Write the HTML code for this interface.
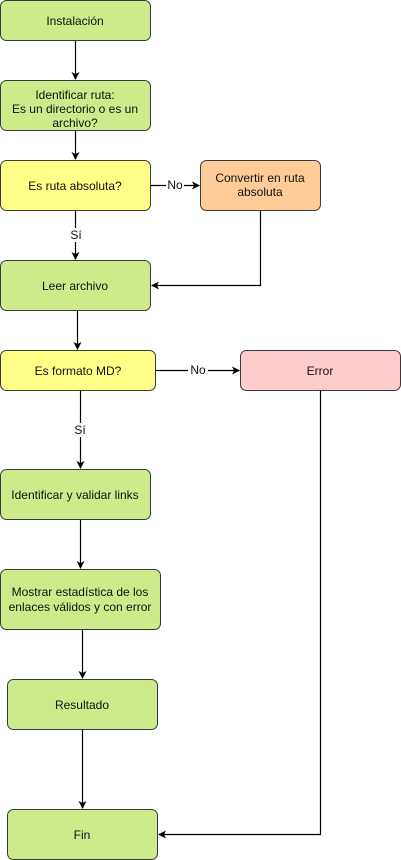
<!DOCTYPE html>
<html><head><meta charset="utf-8"><style>
html,body{margin:0;padding:0;background:#fff;width:401px;height:860px;overflow:hidden}
text{font-family:"Liberation Sans",Arial,sans-serif;font-size:12px;fill:#111;text-anchor:middle}
</style></head><body>
<svg width="401" height="860" viewBox="0 0 401 860" xmlns="http://www.w3.org/2000/svg">
<defs><marker id="a" markerWidth="8" markerHeight="8" refX="7" refY="4" orient="auto" markerUnits="userSpaceOnUse"><path d="M0,0 L8,4 L0,8 L2,4 Z" fill="#000"/></marker></defs>
<g stroke="#36393d" stroke-width="1">
<rect x="0.5" y="0.5" width="150" height="40" rx="6" fill="#cdeb8b"/>
<rect x="0.5" y="80.5" width="150" height="50" rx="6" fill="#cdeb8b"/>
<rect x="0.5" y="160.5" width="150" height="50" rx="6" fill="#ffff88"/>
<rect x="200.5" y="160.5" width="120" height="50" rx="6" fill="#ffcc99"/>
<rect x="0.5" y="260.5" width="150" height="50" rx="6" fill="#cdeb8b"/>
<rect x="0.5" y="350.5" width="155" height="40" rx="6" fill="#ffff88"/>
<rect x="240.5" y="350.5" width="160" height="40" rx="6" fill="#ffcccc"/>
<rect x="0.5" y="469.5" width="150" height="50" rx="6" fill="#cdeb8b"/>
<rect x="0.5" y="569.5" width="160" height="60" rx="6" fill="#cdeb8b"/>
<rect x="7.5" y="679.5" width="150" height="50" rx="6" fill="#cdeb8b"/>
<rect x="7.5" y="809.5" width="150" height="50" rx="6" fill="#cdeb8b"/>
</g>
<g stroke="#000" stroke-width="1.2" fill="none">
<path d="M75.5 41 V79" marker-end="url(#a)"/>
<path d="M75.5 131 V159" marker-end="url(#a)"/>
<path d="M75.5 211 V259" marker-end="url(#a)"/>
<path d="M151 185.5 H199" marker-end="url(#a)"/>
<path d="M260.5 211 V285.5 H152" marker-end="url(#a)"/>
<path d="M77.5 311 V349" marker-end="url(#a)"/>
<path d="M156 370.5 H239" marker-end="url(#a)"/>
<path d="M80.5 391 V468" marker-end="url(#a)"/>
<path d="M80.5 520 V568" marker-end="url(#a)"/>
<path d="M82.5 630 V678" marker-end="url(#a)"/>
<path d="M82.5 730 V808" marker-end="url(#a)"/>
<path d="M320.5 391 V834.5 H159" marker-end="url(#a)"/>
</g>
<g fill="#fff">
<rect x="166" y="178" width="18" height="14"/>
<rect x="68" y="228" width="16" height="14"/>
<rect x="188" y="363" width="20" height="14"/>
<rect x="72" y="423" width="16" height="14"/>
</g>
<text x="175" y="189" font-size="11">No</text>
<text x="76" y="239" font-size="11">Sí</text>
<text x="198" y="374" font-size="11">No</text>
<text x="80" y="434" font-size="11">Sí</text>
<text x="75" y="25">Instalación</text>
<text x="75" y="99">Identificar ruta:</text>
<text x="75" y="113">Es un directorio o es un</text>
<text x="75" y="127">archivo?</text>
<text x="75" y="190">Es ruta absoluta?</text>
<text x="260" y="182">Convertir en ruta</text>
<text x="260" y="196">absoluta</text>
<text x="75" y="290">Leer archivo</text>
<text x="78" y="375">Es formato MD?</text>
<text x="320" y="375">Error</text>
<text x="75" y="499">Identificar y validar links</text>
<text x="80" y="596">Mostrar estadística de los</text>
<text x="80" y="611">enlaces válidos y con error</text>
<text x="82" y="709">Resultado</text>
<text x="82" y="839">Fin</text>
</svg>
</body></html>
